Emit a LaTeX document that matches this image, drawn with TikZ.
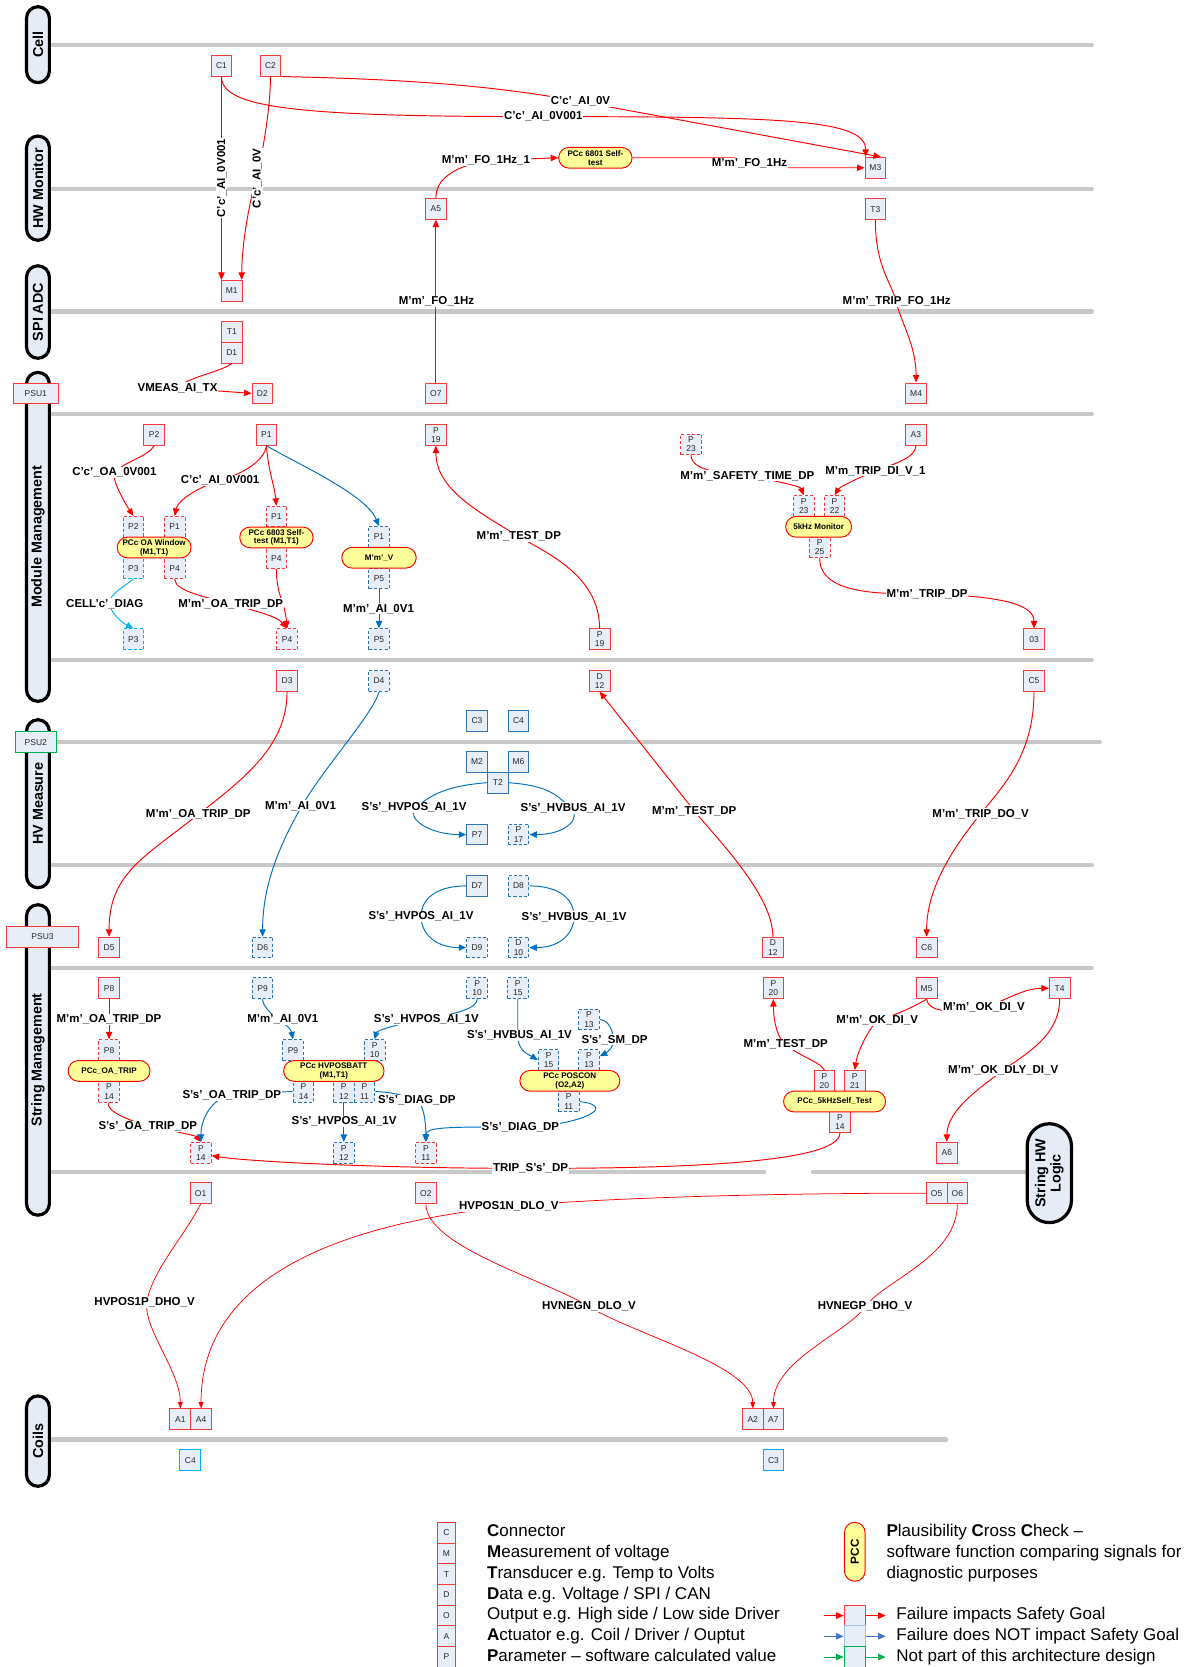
\documentclass[tikz,border=0pt]{standalone}
\usepackage{fontspec}
\setmainfont{Liberation Sans}
\usetikzlibrary{arrows.meta,calc}
\definecolor{boxfill}{RGB}{232,238,248}
\definecolor{boxred}{RGB}{245,60,60}
\definecolor{eblue}{RGB}{0,112,192}
\definecolor{boxblue}{RGB}{46,117,182}
\definecolor{cyanc}{RGB}{0,176,240}
\definecolor{pccfill}{RGB}{255,255,153}
\definecolor{lanegray}{RGB}{200,200,200}
\definecolor{lanefill}{RGB}{230,236,246}
\definecolor{boxtext}{RGB}{40,40,40}
\definecolor{lgblue}{RGB}{68,114,196}
\definecolor{lgbluebox}{RGB}{157,195,230}
\definecolor{lggreen}{RGB}{0,176,80}
\begin{document}
\begin{tikzpicture}[x=1pt,y=-1pt,
  nbox/.style={rectangle, minimum width=19.5pt, minimum height=19.5pt, inner sep=0pt, fill=boxfill, line width=0.9pt, font=\fontsize{8}{8.6}\selectfont, text=boxtext, align=center},
  nrs/.style={nbox, draw=boxred},
  nrd/.style={nbox, draw=boxred, dash pattern=on 3pt off 2pt},
  nbs/.style={nbox, draw=boxblue},
  nbd/.style={nbox, draw=boxblue, dash pattern=on 3pt off 2pt},
  ncs/.style={nbox, draw=cyanc},
  ncd/.style={nbox, draw=cyanc, dash pattern=on 3pt off 2pt},
  pcc/.style={rectangle, rounded corners=9.75pt, minimum height=19.5pt, inner sep=1pt, fill=pccfill, draw=red, line width=0.9pt, font=\bfseries\fontsize{7.6}{8.4}\selectfont, align=center},
  lane/.style={draw=lanegray, line width=3.8pt, line cap=round},
  lanepill/.style={rectangle, rotate=90, rounded corners=10.75pt, minimum height=21.5pt, fill=lanefill, draw=black, line width=3pt, inner sep=0pt, font=\bfseries\fontsize{13.5}{14.5}\selectfont, align=center},
  lbl/.style={fill=white, inner sep=0.8pt, font=\bfseries\fontsize{10.8}{12}\selectfont},
  ra/.style={draw=red, line width=0.9pt, -{Triangle[length=7pt,width=6pt]}},
  ba/.style={draw=eblue, line width=0.9pt, -{Triangle[length=7pt,width=6pt]}},
  ca/.style={draw=cyanc, line width=0.9pt, -{Triangle[length=7pt,width=6pt]}},
  rc/.style={draw=red, line width=0.7pt, -{Triangle[length=6pt,width=4.5pt]}},
  lgtext/.style={anchor=west, inner sep=0pt, font=\fontsize{16}{18}\selectfont, text height=11.5pt, text depth=3.4pt},
]
\useasboundingbox (0,0) rectangle (1119,1568);
\fill[white] (0,0) rectangle (1119,1568);

% ---------- lanes ----------
\foreach \yy/\xe in {42.3/1027, 177.4/1027, 293/1027, 389.5/1027, 620.6/1027, 698/1034.5, 814/1027, 910.5/1027, 1354/890}
  \draw[lane] (40,\yy) -- (\xe,\yy);
\draw[lane] (40,1102.6) -- (719,1102.6);
\draw[lane] (764.6,1102.6) -- (990,1102.6);

\node[lanepill, minimum width=71.4pt] (Lcell) at (35.7,42) {Cell};
\node[lanepill, minimum width=98pt] (Lhw) at (35.7,177) {HW Monitor};
\node[lanepill, minimum width=87pt] (Lspi) at (35.7,293.5) {SPI ADC};
\node[lanepill, minimum width=309.4pt] (Lmm) at (35.7,505) {Module Management};
\node[lanepill, minimum width=158pt] (Lhv) at (35.7,756) {HV Measure};
\node[lanepill, minimum width=292pt] (Lsm) at (35.7,997) {String Management};
\node[lanepill, minimum width=85pt] (Lcoil) at (35.7,1355.5) {Coils};
\node[lanepill, minimum width=93pt, minimum height=41.6pt, rounded corners=20.8pt] (Lshw) at (987,1103.5) {String HW\\Logic};

% ---------- boxes: top ----------
\node[nrs] (C1) at (208.3,61.8) {C1};
\node[nrs] (C2) at (254.4,61.8) {C2};
\node[nrs] (M1) at (218,273.5) {M1};
\node[nrs] (A5) at (410,196.4) {A5};
\node[nrs] (M3) at (823.4,157.8) {M3};
\node[nrs] (T3) at (823.4,196.7) {T3};
\node[nrs] (T1) at (218,312.2) {T1};
\node[nrs] (D1) at (218,331.7) {D1};
\node[nrs] (D2) at (246.8,370) {D2};
\node[nrs] (O7) at (410,370) {O7};
\node[nrs] (M4) at (861.7,370) {M4};
\node[nrs, minimum width=42pt] (PSU1) at (33.7,370) {PSU1};

% ---------- boxes: module management ----------
\node[nrs] (P2a) at (145,409) {P2};
\node[nrs] (P1a) at (250.6,409) {P1};
\node[nrs] (P19a) at (410,409) {P\\19};
\node[nrs] (A3) at (861.5,409) {A3};
\node[nrd] (P23a) at (650,418) {P\\23};
\node[nrd] (wP2) at (125.5,495.5) {P2};
\node[nrd] (wP1) at (164.3,495.5) {P1};
\node[ncd] (wP3) at (125.5,534.5) {P3};
\node[nrd] (wP4) at (164.3,534.5) {P4};
\node[nrd] (stP1) at (260,485.9) {P1};
\node[nrd] (stP4) at (260,525.1) {P4};
\node[nbd] (vpP1) at (356.5,505.1) {P1};
\node[nbd] (vpP5) at (356.5,544.1) {P5};
\node[ncd] (P3b) at (125.5,601.3) {P3};
\node[nrd] (P4b) at (270,601.3) {P4};
\node[nbd] (P5b) at (356.5,601.3) {P5};
\node[nrs] (P19b) at (564,601.3) {P\\19};
\node[nrd] (monP23) at (756,476) {P\\23};
\node[nrd] (monP22) at (785,476) {P\\22};
\node[nrd] (monP25) at (771,515) {P\\25};
\node[nrs] (O3) at (972.6,601.3) {03};

% ---------- boxes: HV measure ----------
\node[nrs] (D3) at (270,640.5) {D3};
\node[nbd] (D4) at (356.5,640.5) {D4};
\node[nrs] (D12a) at (564,640.5) {D\\12};
\node[nrs] (C5) at (972.6,640.5) {C5};
\node[nbs] (C3h) at (448.7,678) {C3};
\node[nbs] (C4h) at (487.7,678) {C4};
\node[nbs] (M2) at (448.7,716.7) {M2};
\node[nbs] (M6) at (487.7,716.7) {M6};
\node[nbs] (T2) at (468.2,736.2) {T2};
\node[nbs] (P7) at (448.7,785) {P7};
\node[nbd] (P17) at (487.7,785) {P\\17};
\node[nbs] (D7) at (448.7,833.3) {D7};
\node[nbd] (D8) at (487.7,833.3) {D8};
\node[nbd] (D9) at (448.7,891.3) {D9};
\node[nbd] (D10) at (487.7,891.3) {D\\10};
\node[nrs] (D5) at (102.6,891.3) {D5};
\node[nbd] (D6) at (247,891.3) {D6};
\node[nrs] (D12b) at (727,891.3) {D\\12};
\node[nrs] (C6) at (871.6,891.3) {C6};
\node[nbox, draw=lggreen, minimum width=38.6pt] (PSU2) at (33.7,698) {PSU2};
\node[nrs, minimum width=67.3pt] (PSU3) at (40,881.3) {PSU3};

% ---------- boxes: string management ----------
\node[nrs] (P8a) at (102.6,929.6) {P8};
\node[nrd] (otP8) at (102.6,987.8) {P8};
\node[nrd] (otP14) at (102.6,1026.8) {P\\14};
\node[nbd] (P9a) at (247,929.6) {P9};
\node[nbd] (P10a) at (448.8,929.6) {P\\10};
\node[nbd] (P15a) at (487,929.6) {P\\15};
\node[nbd] (hbP9) at (275.6,987.8) {P9};
\node[nbd] (hbP10) at (352.4,987.8) {P\\10};
\node[nbd] (hbP14) at (285.5,1026.8) {P\\14};
\node[nbd] (hbP12) at (323.4,1026.8) {P\\12};
\node[nbd] (hbP11) at (342.9,1026.8) {P\\11};
\node[nbd] (P13a) at (554,959) {P\\13};
\node[nbd] (pcP15) at (516,997.1) {P\\15};
\node[nbd] (pcP13) at (554,997.1) {P\\13};
\node[nbd] (pcP11) at (535,1036.1) {P\\11};
\node[nrd] (P14b) at (189,1084.3) {P\\14};
\node[nbd] (P12b) at (323.4,1084.3) {P\\12};
\node[nrd] (P11b) at (400.6,1084.3) {P\\11};
\node[nrs] (P20a) at (727.5,929.6) {P\\20};
\node[nrs] (M5) at (871.6,929.6) {M5};
\node[nrs] (T4) at (996.7,929.6) {T4};
\node[nrs] (sfP20) at (775.5,1016.6) {P\\20};
\node[nrs] (sfP21) at (804,1016.6) {P\\21};
\node[nrs] (sfP14) at (790,1055.6) {P\\14};
\node[nrs] (A6) at (890.6,1084.3) {A6};

% ---------- boxes: coils ----------
\node[nrs] (O1) at (188.7,1122.3) {O1};
\node[nrs] (O2) at (400.6,1122.3) {O2};
\node[nrs] (O5) at (881,1122.3) {O5};
\node[nrs] (O6) at (900.5,1122.3) {O6};
\node[nrs] (A1) at (169.6,1335) {A1};
\node[nrs] (A4) at (189.1,1335) {A4};
\node[nrs] (A2) at (708,1335) {A2};
\node[nrs] (A7) at (727.5,1335) {A7};
\node[ncs] (C4c) at (179,1373.5) {C4};
\node[ncs] (C3c) at (727.5,1373.5) {C3};

% ---------- PCC pills ----------
\node[pcc, minimum width=69pt] (pcc1) at (560,148.4) {PCc 6801 Self-\\test};
\node[pcc, minimum width=69.5pt] (win) at (145,515) {PCc OA Window\\(M1,T1)};
\node[pcc, minimum width=69pt] (st) at (260,505.5) {PCc 6803 Self-\\test (M1,T1)};
\node[pcc, minimum width=70pt] (vp) at (356.5,524.6) {M'm'\_V};
\node[pcc, minimum width=62pt] (mon) at (770,495.5) {5kHz Monitor};
\node[pcc, minimum width=77pt] (ot) at (102.6,1007.3) {PCc\_OA\_TRIP};
\node[pcc, minimum width=94.5pt] (hb) at (314,1007.3) {PCc HVPOSBATT\\(M1,T1)};
\node[pcc, minimum width=94pt] (pc) at (536,1016.6) {PCc POSCON\\(O2,A2)};
\node[pcc, minimum width=96pt] (sf) at (785,1036.1) {PCc\_5kHzSelf\_Test};

% ---------- connectors: top ----------
\draw[ra] (C1.south) -- (C1.south |- M1.north);
\draw[ra] (C2.south) .. controls +(0,30) and +(6,-22) .. (241,167) .. controls +(-6,22) and +(0,-35) .. ($(M1.north east)+(-0.8,0)$);
\draw[ra] (C1.south) .. controls +(0,30) and +(-230,0) .. (511,109.7) .. controls +(230,0) and +(0,-35) .. ($(M3.north west)+(1,0)$);
\draw[ra] (C2.south east) .. controls +(150,3) and +(-60,-11) .. (546,95.6) -- ($(M3.north east)+(-5,0)$);
\draw[ra] (A5.north) .. controls +(0,-18) and +(-30,6) .. (457,151) -- (pcc1.west);
\draw[ra] (pcc1.east) -- (690,148.4) -- (720,157.8) -- (M3.west);
\draw[ra] (O7.north) -- (A5.south);
\draw[ra] (T3.south) .. controls +(0,45) and +(-4,-18) .. (843,284) .. controls +(4,18) and +(0,-35) .. (M4.north);
\draw[ra] (D1.south) .. controls +(-10,8) and +(8,-10) .. (167,365) -- (D2.west);

% ---------- connectors: module management ----------
\draw[ra] (P2a.south) .. controls +(-5,10) and +(8,-10) .. (108,444.5) .. controls +(-4,5) and +(-8,-12) .. (wP2.north);
\draw[ra] (P1a.south) .. controls +(-2,15) and +(20,-6) .. (207,452) .. controls +(-20,6) and +(3,-15) .. (wP1.north);
\draw[ra] (P1a.south) .. controls +(2,25) and +(-2,-20) .. (stP1.north);
\draw[ba] (P1a.south) .. controls +(25,15) and +(-12,-30) .. (vpP1.north);
\draw[ca] (wP3.south) .. controls +(-10,8) and +(0,-8) .. (103,567) .. controls +(0,8) and +(-12,-6) .. (P3b.north);
\draw[ra] (wP4.south) .. controls +(0,12) and +(-20,-6) .. (217,568) .. controls +(20,6) and +(-10,-12) .. (P4b.north);
\draw[ra] (stP4.south) .. controls +(0,25) and +(-2,-25) .. (P4b.north);
\draw[ba] (vpP5.south) -- (P5b.north);
\draw[ra] (P19b.north) .. controls +(0,-50) and +(25,15) .. (488,504.6) .. controls +(-40,-24) and +(0,40) .. (P19a.south);
\draw[ra] (P23a.south) .. controls +(0,8) and +(-45,-3) .. (703,447.6) .. controls +(30,5) and +(-3,-8) .. (monP23.north);
\draw[ra] (A3.south) .. controls +(0,12) and +(15,-6) .. (823.5,443) .. controls +(-15,6) and +(5,-8) .. (monP22.north);
\draw[ra] (monP25.south) .. controls +(0,35) and +(-40,0) .. (872,558.6) .. controls +(60,2) and +(0,-25) .. (O3.north);

% ---------- connectors: HV measure ----------
\draw[ra] (D3.south) .. controls +(0,50) and +(45,-35) .. (186.5,766) .. controls +(-50,40) and +(0,-60) .. (D5.north);
\draw[ba] (D4.south) .. controls +(-5,20) and +(20,-35) .. (284,758) .. controls +(-20,35) and +(0,-50) .. (D6.north);
\draw[ra] (D12b.north) .. controls +(0,-40) and +(20,25) .. (653,762.6) -- (D12a.south);
\draw[ra] (C5.south) .. controls +(0,60) and +(20,-25) .. (922.4,765.4) .. controls +(-20,25) and +(0,-50) .. (C6.north);
\draw[ba] (T2.west) .. controls +(-40,3) and +(12,-10) .. (392,759) .. controls +(-12,10) and +(-35,0) .. (P7.west);
\draw[ba] (T2.east) .. controls +(40,3) and +(-12,-10) .. (536,759) .. controls +(12,10) and +(35,0) .. (P17.east);
\draw[ba] (D7.west) .. controls +(-30,0) and +(0,-15) .. (396,862) .. controls +(0,15) and +(-30,0) .. (D9.west);
\draw[ba] (D8.east) .. controls +(30,0) and +(0,-15) .. (540,862) .. controls +(0,15) and +(30,0) .. (D10.east);

% ---------- connectors: string management ----------
\draw[ra] (P8a.south) -- (otP8.north);
\draw[ra] (otP14.south) .. controls +(-5,8) and +(-15,-5) .. (139,1059.4) .. controls +(30,5) and +(-4,-5) .. (P14b.north);
\draw[ba] (hbP14.west) .. controls +(-20,0) and +(15,0) .. (218,1030.6) .. controls +(-15,0) and +(0,-25) .. (P14b.north);
\draw[ba] (P9a.south) .. controls +(0,6) and +(-8,-6) .. (262,959) .. controls +(8,6) and +(-2,-10) .. (hbP9.north);
\draw[ba] (P10a.south) .. controls +(0,8) and +(30,-5) .. (403,958) .. controls +(-30,5) and +(2,-8) .. (hbP10.north);
\draw[ba] (hbP12.south) -- (P12b.north);
\draw[ba] (hbP11.east) .. controls +(15,0) and +(-10,-4) .. (392,1035) .. controls +(6,3) and +(0,-20) .. (P11b.north);
\draw[ba] (P15a.south) -- (487,974) .. controls +(0,15) and +(-8,-5) .. (pcP15.west);
\draw[ba] (P13a.east) .. controls +(8,0) and +(0,-8) .. (577,978) .. controls +(0,8) and +(6,-3) .. (pcP13.20);
\draw[ba] (pcP11.east) .. controls +(40,5) and +(50,0) .. (489.5,1060) .. controls +(-70,0) and +(0,-14) .. (P11b.north);
\draw[ra] (sfP14.south) .. controls +(0,30) and +(120,0) .. (499,1099) .. controls +(-150,0) and +(30,5) .. (P14b.-15);
\draw[ra] (sfP20.north) .. controls +(-5,-8) and +(15,12) .. (739,982.6) .. controls +(-8,-6) and +(0,20) .. (P20a.south);
\draw[ra] (M5.south) .. controls +(-10,6) and +(20,-6) .. (825,960) .. controls +(-6,6) and +(3,-20) .. (sfP21.north);
\draw[ra] (M5.south) .. controls +(2,15) and +(-20,5) .. (925.5,947) .. controls +(20,-5) and +(-25,0) .. (T4.west);
\draw[ra] (T4.south) .. controls +(0,35) and +(20,-15) .. (943.6,1006.7) .. controls +(-20,15) and +(0,-30) .. (A6.north);

% ---------- connectors: coils ----------
\draw[rc] (O1.south) .. controls +(-15,30) and +(5,-30) .. (138,1225) .. controls +(-3,25) and +(0,-35) .. (A1.north);
\draw[rc] (O5.west) .. controls +(-150,0) and +(80,-8) .. (478.6,1135) .. controls +(-120,12) and +(0,-140) .. (A4.north);
\draw[rc] (O2.south) .. controls +(0,40) and +(-40,-25) .. (554,1229) .. controls +(40,25) and +(0,-40) .. (A2.north);
\draw[rc] (O6.south) .. controls +(0,50) and +(18,-25) .. (814,1229) .. controls +(-18,25) and +(0,-45) .. (A7.north);

% ---------- labels ----------
\node[lbl, rotate=90] (lC1M1) at (208.7,167.5) {C'c'\_AI\_0V001};
\node[lbl, rotate=90] (lC2M1) at (242,167.8) {C'c'\_AI\_0V};
\node[lbl] (lC1M3) at (511,109.7) {C'c'\_AI\_0V001};
\node[lbl] (lC2M3) at (546,95.6) {C'c'\_AI\_0V};
\node[lbl] (lA5) at (457,151) {M'm'\_FO\_1Hz\_1};
\node[lbl] (lPM3) at (705,153.6) {M'm'\_FO\_1Hz};
\node[lbl] (lO7) at (410.5,283.7) {M'm'\_FO\_1Hz};
\node[lbl] (lT3) at (843.4,283.7) {M'm'\_TRIP\_FO\_1Hz};
\node[lbl] (lD1) at (167,365) {VMEAS\_AI\_TX};

\node[lbl] (lP2) at (107.6,444.5) {C'c'\_OA\_0V001};
\node[lbl] (lP1) at (207,452) {C'c'\_AI\_0V001};
\node[lbl] (lP3) at (98.6,568) {CELL'c'\_DIAG};
\node[lbl] (lP4) at (217,568) {M'm'\_OA\_TRIP\_DP};
\node[lbl] (lP5) at (356,572.6) {M'm'\_AI\_0V1};
\node[lbl] (lP19) at (488,504.6) {M'm'\_TEST\_DP};
\node[lbl] (lP23) at (703,447.6) {M'm'\_SAFETY\_TIME\_DP};
\node[lbl] (lA3) at (823.5,443) {M'm\_TRIP\_DI\_V\_1};
\node[lbl] (lP25) at (872,558.6) {M'm'\_TRIP\_DP};

\node[lbl] (lD3) at (186.5,765.4) {M'm'\_OA\_TRIP\_DP};
\node[lbl] (lD4) at (282.7,758) {M'm'\_AI\_0V1};
\node[lbl] (lT2a) at (389.5,759.5) {S's'\_HVPOS\_AI\_1V};
\node[lbl] (lT2b) at (539,760) {S's'\_HVBUS\_AI\_1V};
\node[lbl] (lD12) at (653,762.6) {M'm'\_TEST\_DP};
\node[lbl] (lC5) at (922.4,765.4) {M'm'\_TRIP\_DO\_V};
\node[lbl] (lD7) at (396,862) {S's'\_HVPOS\_AI\_1V};
\node[lbl] (lD8) at (540,862.4) {S's'\_HVBUS\_AI\_1V};

\node[lbl] (lP8) at (102.5,959) {M'm'\_OA\_TRIP\_DP};
\node[lbl] (lP9) at (266,959) {M'm'\_AI\_0V1};
\node[lbl] (lP10) at (401,959) {S's'\_HVPOS\_AI\_1V};
\node[lbl] (lP15) at (488.6,974) {S's'\_HVBUS\_AI\_1V};
\node[lbl] (lP13) at (578,978) {S's'\_SM\_DP};
\node[lbl] (lhb14) at (218,1030.6) {S's'\_OA\_TRIP\_DP};
\node[lbl] (lhb11) at (392,1035) {S's'\_DIAG\_DP};
\node[lbl] (lhb12) at (323.6,1055) {S's'\_HVPOS\_AI\_1V};
\node[lbl] (lot14) at (139,1059.4) {S's'\_OA\_TRIP\_DP};
\node[lbl] (lpc11) at (489.5,1060) {S's'\_DIAG\_DP};
\node[lbl] (lsf14) at (499,1099) {TRIP\_S's'\_DP};
\node[lbl] (lsf20) at (739,982.6) {M'm'\_TEST\_DP};
\node[lbl] (lM5a) at (825,960) {M'm'\_OK\_DI\_V};
\node[lbl] (lM5b) at (925.5,947) {M'm'\_OK\_DI\_V};
\node[lbl] (lT4) at (943.6,1006.7) {M'm'\_OK\_DLY\_DI\_V};

\node[lbl] (lO5) at (478.6,1135) {HVPOS1N\_DLO\_V};
\node[lbl] (lO1) at (136,1225) {HVPOS1P\_DHO\_V};
\node[lbl] (lO2) at (554,1229) {HVNEGN\_DLO\_V};
\node[lbl] (lO6) at (813.6,1229) {HVNEGP\_DHO\_V};

% ---------- legend ----------
\node[nrs, minimum width=17.5pt] (lgC) at (420,1441.6) {C};
\node[nrs, minimum width=17.5pt] (lgM) at (420,1461.1) {M};
\node[nrs, minimum width=17.5pt] (lgT) at (420,1480.6) {T};
\node[nrs, minimum width=17.5pt] (lgD) at (420,1500.1) {D};
\node[nrs, minimum width=17.5pt] (lgO) at (420,1519.6) {O};
\node[nrs, minimum width=17.5pt] (lgA) at (420,1539.1) {A};
\node[nrs, minimum width=17.5pt] (lgP) at (420,1558.6) {P};
\node[lgtext] (lgtC) at (458,1441.6) {\textbf{C}onnector};
\node[lgtext] (lgtM) at (458,1461.1) {\textbf{M}easurement of voltage};
\node[lgtext] (lgtT) at (458,1480.6) {\textbf{T}ransducer e.g. Temp to Volts};
\node[lgtext] (lgtD) at (458,1500.1) {\textbf{D}ata e.g. Voltage / SPI / CAN};
\node[lgtext] (lgtO) at (458,1519.6) {Output e.g. High side / Low side Driver};
\node[lgtext] (lgtA) at (458,1539.1) {\textbf{A}ctuator e.g. Coil / Driver / Ouptut};
\node[lgtext] (lgtP) at (458,1558.6) {\textbf{P}arameter – software calculated value};

\node[pcc, rotate=90, minimum width=55.5pt, font=\bfseries\fontsize{11}{12}\selectfont] (lgPCC) at (804,1459.6) {PCC};
\node[lgtext] (lgtPCC1) at (833.7,1441.6) {\textbf{P}lausibility \textbf{C}ross \textbf{C}heck –};
\node[lgtext] (lgtPCC2) at (833.7,1461.1) {software function comparing signals for};
\node[lgtext] (lgtPCC3) at (833.7,1480.6) {diagnostic purposes};

\node[nbox, draw=boxred, minimum width=20pt] (lgRb) at (804,1519.6) {};
\node[nbox, draw=lgbluebox, minimum width=20pt] (lgBb) at (804,1539.1) {};
\node[nbox, draw=lggreen, minimum width=20pt] (lgGb) at (804,1558.6) {};
\coordinate (lgRa) at (775,1519.6); \coordinate (lgRz) at (833,1519.6);
\coordinate (lgBa) at (775,1539.1); \coordinate (lgBz) at (833,1539.1);
\coordinate (lgGa) at (775,1558.6); \coordinate (lgGz) at (833,1558.6);
\draw[ra] (lgRa) -- (lgRb.west);
\draw[ra] (lgRb.east) -- (lgRz);
\draw[ra, draw=lgblue, fill=lgblue] (lgBa) -- (lgBb.west);
\draw[ra, draw=lgblue, fill=lgblue] (lgBb.east) -- (lgBz);
\draw[ra, draw=lggreen, fill=lggreen] (lgGa) -- (lgGb.west);
\draw[ra, draw=lggreen, fill=lggreen] (lgGb.east) -- (lgGz);
\node[lgtext] (lgtR) at (843,1519.6) {Failure impacts Safety Goal};
\node[lgtext] (lgtB) at (843,1539.1) {Failure does NOT impact Safety Goal};
\node[lgtext] (lgtG) at (843,1558.6) {Not part of this architecture design};
\end{tikzpicture}
\end{document}
